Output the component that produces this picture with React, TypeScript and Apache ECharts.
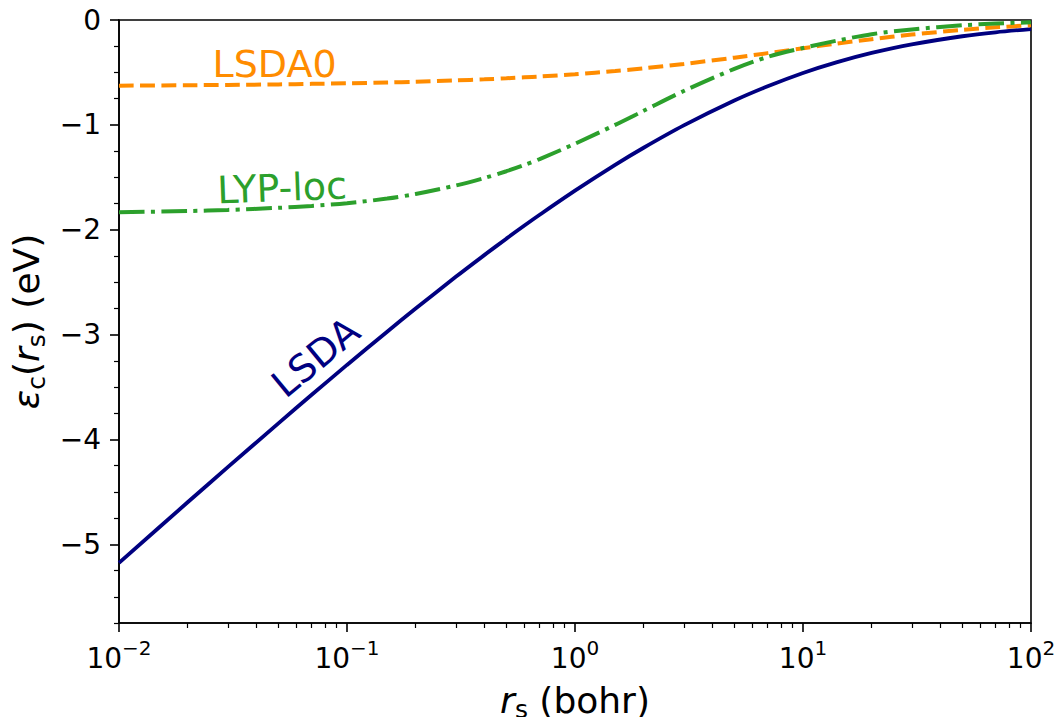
import React, { useEffect, useRef } from 'react';
import * as echarts from 'echarts';

// r_s sample points (bohr)
const rsValues = [0.01, 0.02, 0.03, 0.05, 0.07, 0.1, 0.15, 0.2, 0.3, 0.4, 0.5, 0.6, 0.7, 1, 1.5, 2, 3, 5, 7, 10, 14, 20, 30, 50, 70, 100];
// correlation energies (eV)
const lsdaValues = [-5.176, -4.599, -4.264, -3.846, -3.574, -3.289, -2.972, -2.752, -2.449, -2.242, -2.085, -1.960, -1.857, -1.627, -1.381, -1.218, -1.005, -0.768, -0.632, -0.505, -0.404, -0.314, -0.232, -0.155, -0.117, -0.087];
const lsda0Values = [-0.626, -0.622, -0.619, -0.614, -0.609, -0.604, -0.596, -0.589, -0.576, -0.566, -0.556, -0.547, -0.539, -0.517, -0.487, -0.461, -0.419, -0.359, -0.316, -0.269, -0.225, -0.183, -0.139, -0.094, -0.070, -0.050];
const lypLocValues = [-1.833, -1.822, -1.811, -1.791, -1.773, -1.747, -1.703, -1.659, -1.578, -1.507, -1.442, -1.382, -1.326, -1.180, -1.000, -0.866, -0.677, -0.466, -0.352, -0.267, -0.198, -0.135, -0.090, -0.050, -0.034, -0.022];

// axis ticks
const yMajorTicks = [0, -1, -2, -3, -4, -5];
const yMinorTicks = [-0.25, -0.5, -0.75, -1.25, -1.5, -1.75, -2.25, -2.5, -2.75, -3.25, -3.5, -3.75, -4.25, -4.5, -4.75, -5.25, -5.5, -5.75];
const xDecades = [-2, -1, 0, 1];
const xMinorMultipliers = [2, 3, 4, 5, 6, 7, 8, 9];

const FONT = "'DejaVu Sans', 'Noto Sans', sans-serif";

export default function App() {
  const ref = useRef<HTMLDivElement>(null);

  useEffect(() => {
    document.body.style.margin = '0';
    if (!ref.current) return;
    const chart = echarts.init(ref.current, undefined, { renderer: 'svg' });

    const xMinorLog: number[] = [];
    xDecades.forEach((d) => xMinorMultipliers.forEach((m) => xMinorLog.push(d + Math.log10(m))));

    const supNum = (e: number) => (e < 0 ? '\u2212' + Math.abs(e) : String(e));

    const nameRich = {
      it: { fontSize: 36, fontFamily: FONT, fontStyle: 'italic', color: '#000', lineHeight: 44 },
      n: { fontSize: 36, fontFamily: FONT, color: '#000', lineHeight: 44 },
      sub: { fontSize: 25, fontFamily: FONT, color: '#000', lineHeight: 20, verticalAlign: 'bottom' },
    };

    const line = (data: number[], color: string, width: number, type: any, name: string) => ({
      type: 'line',
      name,
      xAxisIndex: 0,
      yAxisIndex: 0,
      data: rsValues.map((r, i) => [r, data[i]]),
      showSymbol: false,
      symbol: 'none',
      smooth: 0.3,
      lineStyle: { color, width, type, cap: 'butt' },
      emphasis: { disabled: true },
    });

    chart.setOption({
      animation: false,
      backgroundColor: '#ffffff',
      grid: {
        left: 119,
        right: 24,
        top: 20,
        bottom: 94,
        show: true,
        borderColor: '#000',
        borderWidth: 1.6,
        backgroundColor: 'transparent',
        containLabel: false,
        outerBoundsMode: 'none',
      },
      xAxis: [
        {
          type: 'log',
          logBase: 10,
          min: 0.01,
          max: 100,
          position: 'bottom',
          axisLine: { show: true, onZero: false, lineStyle: { color: '#000', width: 1.6 } },
          axisTick: { show: true, inside: false, length: 9, lineStyle: { color: '#000', width: 1.6 } },
          minorTick: { show: false },
          splitLine: { show: false },
          axisLabel: {
            margin: 15,
            formatter: (v: number) => `{b|10}{s|${supNum(Math.round(Math.log10(v)))}}`,
            rich: {
              b: { fontSize: 28, fontFamily: FONT, color: '#000', lineHeight: 34, verticalAlign: 'bottom' },
              s: { fontSize: 20, fontFamily: FONT, color: '#000', lineHeight: 20, verticalAlign: 'top' },
            },
          },
          name: '{it|r}{sub|s}{n| (bohr)}',
          nameLocation: 'middle',
          nameGap: 55,
          nameTextStyle: { rich: nameRich },
        },
        {
          type: 'value',
          min: -2,
          max: 2,
          position: 'bottom',
          axisLine: { show: false, onZero: false },
          axisLabel: { show: false },
          splitLine: { show: false },
          axisTick: { show: true, length: 5, customValues: xMinorLog, lineStyle: { color: '#000', width: 1.2 } },
        },
      ],
      yAxis: [
        {
          type: 'value',
          min: -5.75,
          max: 0,
          position: 'left',
          axisLine: { show: true, onZero: false, lineStyle: { color: '#000', width: 1.6 } },
          axisTick: { show: true, inside: false, length: 9, customValues: yMajorTicks, lineStyle: { color: '#000', width: 1.6 } },
          splitLine: { show: false },
          axisLabel: {
            customValues: yMajorTicks,
            margin: 18,
            fontSize: 28,
            fontFamily: FONT,
            color: '#000',
            formatter: (v: number) => (v === 0 ? '0' : '\u2212' + Math.abs(v)),
          },
          name: '{it|\u03b5}{sub|c}{n|(}{it|r}{sub|s}{n|) (eV)}',
          nameLocation: 'middle',
          nameGap: 65,
          nameRotate: 90,
          nameTextStyle: { rich: nameRich },
        },
        {
          type: 'value',
          min: -5.75,
          max: 0,
          position: 'left',
          axisLine: { show: false, onZero: false },
          axisLabel: { show: false },
          splitLine: { show: false },
          axisTick: { show: true, length: 5, customValues: yMinorTicks, lineStyle: { color: '#000', width: 1.2 } },
        },
      ],
      series: [
        line(lsdaValues, '#000080', 3.8, 'solid', 'LSDA'),
        line(lsda0Values, '#ff8c00', 4, [14.8, 6.4], 'LSDA0'),
        line(lypLocValues, '#2ca02c', 4, [25.6, 6.4, 4, 6.4], 'LYP-loc'),
      ],
      graphic: [
        {
          type: 'text',
          x: 212.5,
          y: 63.7,
          style: { text: 'LSDA0', fill: '#ff8c00', fontSize: 38, fontFamily: FONT, align: 'left', verticalAlign: 'middle' },
        },
        {
          type: 'text',
          x: 282,
          y: 188,
          rotation: 0.038,
          style: { text: 'LYP-loc', fill: '#2ca02c', fontSize: 38, fontFamily: FONT, align: 'center', verticalAlign: 'middle' },
        },
        {
          type: 'text',
          x: 315.7,
          y: 357.3,
          rotation: 0.69,
          style: { text: 'LSDA', fill: '#000080', fontSize: 38, fontFamily: FONT, align: 'center', verticalAlign: 'middle' },
        },
      ],
    });

    return () => chart.dispose();
  }, []);

  return <div ref={ref} style={{ width: 1055, height: 717 }} />;
}
